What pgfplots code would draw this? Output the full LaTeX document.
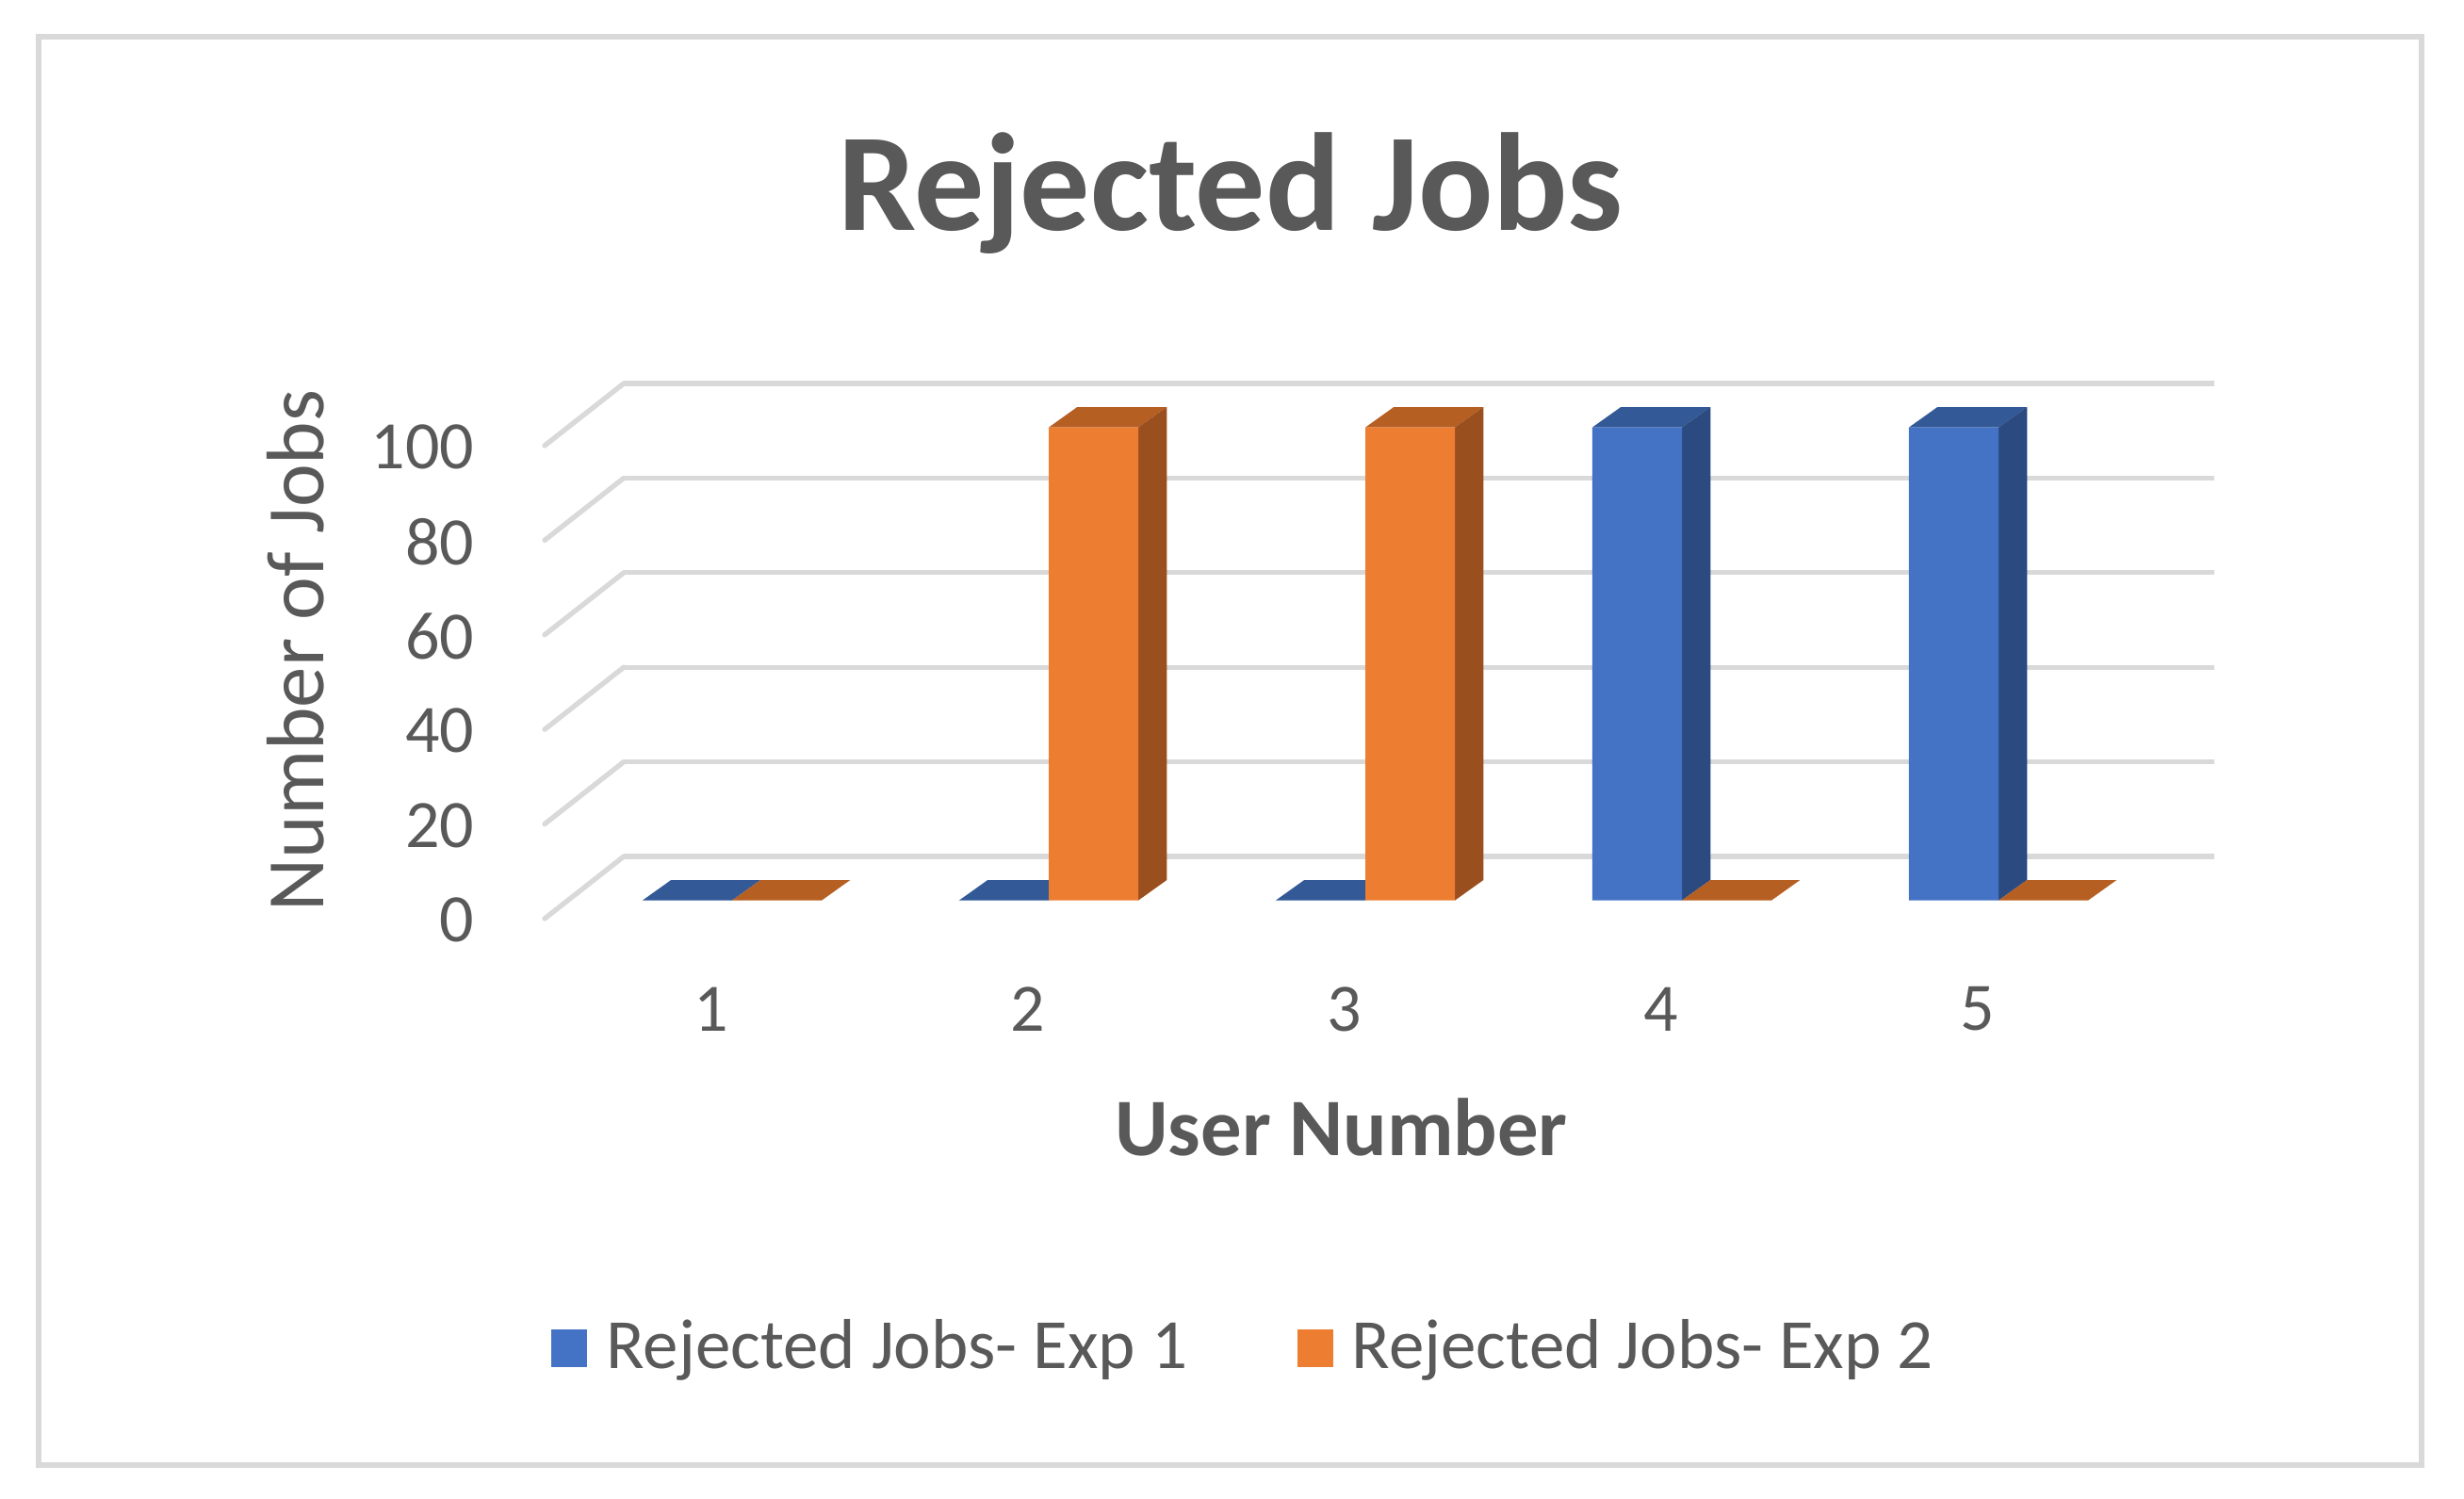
\documentclass[border=0pt]{standalone}
\usepackage{pgfplots}
\pgfplotsset{compat=1.18}
\usepackage{fontspec}
\setmainfont{Carlito}
\definecolor{txt}{HTML}{595959}
\definecolor{gridc}{HTML}{D9D9D9}
\definecolor{bfront}{HTML}{4472C4}
\definecolor{btop}{HTML}{335A97}
\definecolor{bside}{HTML}{2B4A80}
\definecolor{ofront}{HTML}{ED7D31}
\definecolor{otop}{HTML}{B55F23}
\definecolor{oside}{HTML}{9A4F1E}
\begin{document}
\begin{tikzpicture}
\useasboundingbox (0,0) rectangle (392.25pt,238.5pt);
\draw[color=gridc, line width=0.9pt] (6.15pt,5.25pt) rectangle (385.5pt,232.65pt);
% title and axis titles
\node[anchor=base, text=txt, font=\fontsize{22.2}{26}\selectfont\bfseries] at (195.9pt,201.75pt) {Rejected Jobs};
\node[anchor=base, text=txt, font=\fontsize{13}{15}\selectfont\bfseries] at (213.5pt,54.6pt) {User Number};
\node[anchor=base, rotate=90, text=txt, font=\fontsize{13}{15}\selectfont] at (51.5pt,134.9pt) {Number of Jobs};
% back wall with grid lines
\begin{axis}[
  at={(99.3pt,102.15pt)}, anchor=south west,
  scale only axis, width=253.2pt, height=75.3pt,
  xmin=0.5, xmax=5.5, ymin=0, ymax=100,
  axis lines*=left, axis line style={draw=none}, tick style={draw=none},
  xtick=\empty, ytick={0,20,40,60,80,100},
  ymajorgrids, grid style={draw=gridc, line width=0.8pt},
  /pgf/number format/assume math mode=true,
  yticklabel style={anchor=east, inner sep=0pt, xshift=-23.6pt, yshift=-10.1pt,
    text=txt, font=\fontsize{10.8}{12}\selectfont},
  clip=false,
]
\pgfplotsinvokeforeach{0,20,40,60,80,100}{
  \draw[gridc, line width=0.8pt, line cap=round] (axis cs:0.5,#1) -- ++(-12.6pt,-9.9pt);
}
\end{axis}
% bars (front plane)
\begin{axis}[
  at={(91.35pt,95.16pt)}, anchor=south west,
  scale only axis, width=252pt, height=75.3pt,
  xmin=0.5, xmax=5.5, ymin=0, ymax=100,
  axis lines*=left, axis line style={draw=none}, tick style={draw=none},
  ytick=\empty, xtick={1,2,3,4,5},
  /pgf/number format/assume math mode=true,
  xticklabel style={anchor=center, xshift=-3.3pt, yshift=-17.3pt,
    text=txt, font=\fontsize{10.8}{12}\selectfont},
  clip=false,
  legend style={at={(-0.0149,-0.947)}, anchor=west, draw=none, fill=none,
    inner sep=0pt, text=txt, font=\fontsize{11.25}{13}\selectfont,
    nodes={inner xsep=3pt},
    /tikz/every even column/.append style={column sep=14.5pt}},
  legend columns=2, legend cell align=left,
  legend image code/.code={\fill[#1] (0pt,-3.05pt) rectangle (5.7pt,3.05pt);},
]
% Exp 1 faces
\addplot[fill=btop, draw=none, forget plot] coordinates {(0.717,0) (0.807,4.3) (1.09,4.3) (1,0)} --cycle;
\addplot[fill=btop, draw=none, forget plot] coordinates {(1.717,0) (1.807,4.3) (2.09,4.3) (2,0)} --cycle;
\addplot[fill=btop, draw=none, forget plot] coordinates {(2.717,0) (2.807,4.3) (3.09,4.3) (3,0)} --cycle;
\addplot[fill=btop, draw=none, forget plot] coordinates {(3.717,100) (3.807,104.3) (4.09,104.3) (4,100)} --cycle;
\addplot[fill=bside, draw=none, forget plot] coordinates {(4,0) (4.09,4.3) (4.09,104.3) (4,100)} --cycle;
\addplot[fill=btop, draw=none, forget plot] coordinates {(4.717,100) (4.807,104.3) (5.09,104.3) (5,100)} --cycle;
\addplot[fill=bside, draw=none, forget plot] coordinates {(5,0) (5.09,4.3) (5.09,104.3) (5,100)} --cycle;
% Exp 1 fronts
\addplot[ybar, bar width=0.283, bar shift=-0.1415, fill=bfront, draw=none]
  coordinates {(1,0) (2,0) (3,0) (4,100) (5,100)};
\addlegendentry{Rejected Jobs- Exp 1}
% Exp 2 faces
\addplot[fill=otop, draw=none, forget plot] coordinates {(1,0) (1.09,4.3) (1.373,4.3) (1.283,0)} --cycle;
\addplot[fill=otop, draw=none, forget plot] coordinates {(2,100) (2.09,104.3) (2.373,104.3) (2.283,100)} --cycle;
\addplot[fill=oside, draw=none, forget plot] coordinates {(2.283,0) (2.373,4.3) (2.373,104.3) (2.283,100)} --cycle;
\addplot[fill=otop, draw=none, forget plot] coordinates {(3,100) (3.09,104.3) (3.373,104.3) (3.283,100)} --cycle;
\addplot[fill=oside, draw=none, forget plot] coordinates {(3.283,0) (3.373,4.3) (3.373,104.3) (3.283,100)} --cycle;
\addplot[fill=otop, draw=none, forget plot] coordinates {(4,0) (4.09,4.3) (4.373,4.3) (4.283,0)} --cycle;
\addplot[fill=otop, draw=none, forget plot] coordinates {(5,0) (5.09,4.3) (5.373,4.3) (5.283,0)} --cycle;
% Exp 2 fronts
\addplot[ybar, bar width=0.283, bar shift=0.1415, fill=ofront, draw=none]
  coordinates {(1,0) (2,100) (3,100) (4,0) (5,0)};
\addlegendentry{Rejected Jobs- Exp 2}
\end{axis}
\end{tikzpicture}
\end{document}
